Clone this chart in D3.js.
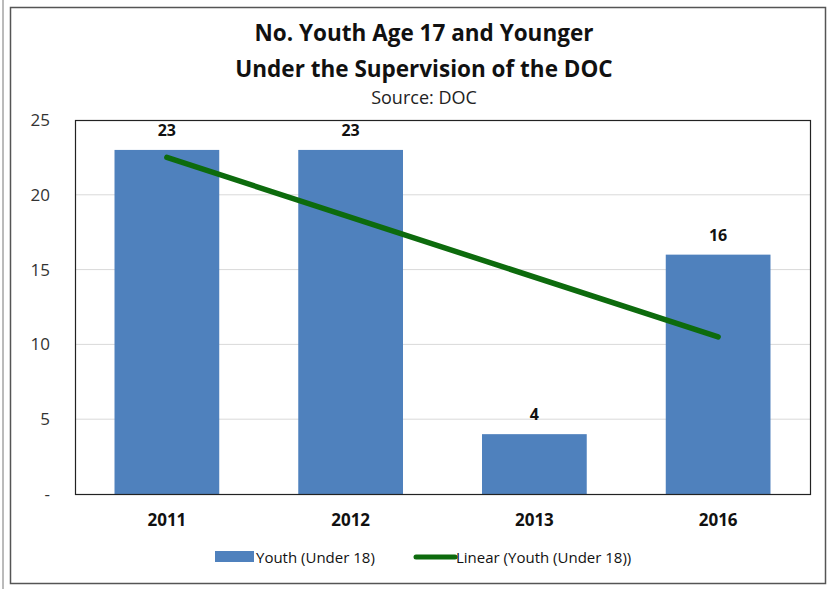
<!DOCTYPE html>
<html>
<head>
<meta charset="utf-8">
<script src="https://cdn.jsdelivr.net/npm/d3@7"></script>
<style>
  body { margin: 0; background: #fff; }
  text { font-family: "Open Sans", Arial, sans-serif; }
</style>
</head>
<body>
<div id="chart"></div>
<script>
var width = 833, height = 589;

var years = ["2011", "2012", "2013", "2016"];
var youth = [23, 23, 4, 16];
var yTicks = [0, 5, 10, 15, 20, 25];
var seriesName = "Youth (Under 18)";
var trendName = "Linear (Youth (Under 18))";

var barColor = "#4f81bd", trendColor = "#0d6b0d";

var svg = d3.select("#chart").append("svg")
    .attr("width", width)
    .attr("height", height);

// page edge line + chart frame
svg.append("line")
    .attr("x1", 3).attr("x2", 3).attr("y1", 0).attr("y2", height)
    .attr("stroke", "#777").attr("stroke-width", 1);
svg.append("rect")
    .attr("x", 10.5).attr("y", 7.5)
    .attr("width", 815).attr("height", 576)
    .attr("fill", "#fff").attr("stroke", "#555").attr("stroke-width", 1.5);

// titles
svg.append("text")
    .attr("x", 424).attr("y", 41)
    .attr("text-anchor", "middle")
    .style("font-size", "22.5px").style("font-weight", "bold").attr("fill", "#111")
    .text("No. Youth Age 17 and Younger");
svg.append("text")
    .attr("x", 424).attr("y", 77)
    .attr("text-anchor", "middle")
    .style("font-size", "22.5px").style("font-weight", "bold").attr("fill", "#111")
    .text("Under the Supervision of the DOC");
svg.append("text")
    .attr("x", 424).attr("y", 104)
    .attr("text-anchor", "middle")
    .style("font-size", "18px").attr("fill", "#222")
    .text("Source: DOC");

var plot = {left: 75, right: 810, top: 120, bottom: 494};

var x = d3.scaleBand()
    .domain(years)
    .range([plot.left, plot.right])
    .paddingInner(0.43)
    .paddingOuter(0.215);

var y = d3.scaleLinear()
    .domain([0, 25])
    .range([plot.bottom, plot.top]);

// gridlines
svg.append("g")
    .selectAll("line")
    .data(yTicks.slice(1, -1))
    .enter()
    .append("line")
    .attr("x1", plot.left).attr("x2", plot.right)
    .attr("y1", d => y(d)).attr("y2", d => y(d))
    .attr("stroke", "#d9d9d9").attr("stroke-width", 1);

// y axis labels
var yAxis = d3.axisLeft(y)
    .tickValues(yTicks)
    .tickSize(0)
    .tickPadding(25)
    .tickFormat(d => d === 0 ? "-" : d);
var yg = svg.append("g")
    .attr("transform", "translate(" + plot.left + ",0)")
    .call(yAxis);
yg.select(".domain").remove();
yg.selectAll("text")
    .style("font-size", "17px")
    .style("font-family", "\"Open Sans\", Arial, sans-serif")
    .attr("fill", "#333");

// bars
svg.append("g")
    .selectAll("rect")
    .data(youth)
    .enter()
    .append("rect")
    .attr("x", (d, i) => x(years[i]))
    .attr("y", d => y(d))
    .attr("width", x.bandwidth())
    .attr("height", d => y(0) - y(d))
    .attr("fill", barColor);

// value labels
svg.append("g")
    .selectAll("text")
    .data(youth)
    .enter()
    .append("text")
    .attr("x", (d, i) => x(years[i]) + x.bandwidth() / 2)
    .attr("y", d => y(d) - 14)
    .attr("text-anchor", "middle")
    .style("font-size", "16px").style("font-weight", "bold").attr("fill", "#111")
    .text(d => d);

// linear trendline (least squares over category index)
var idx = youth.map((d, i) => i + 1);
var mx = d3.mean(idx), my = d3.mean(youth);
var slope = d3.sum(idx, (v, i) => (v - mx) * (youth[i] - my)) / d3.sum(idx, v => (v - mx) * (v - mx));
var intercept = my - slope * mx;
var trend = idx.map((v, i) => ({year: years[i], value: intercept + slope * v}));
var trendEnds = [trend[0], trend[trend.length - 1]];

svg.append("path")
    .datum(trendEnds)
    .attr("d", d3.line()
        .x(d => x(d.year) + x.bandwidth() / 2)
        .y(d => y(d.value)))
    .attr("fill", "none")
    .attr("stroke", trendColor)
    .attr("stroke-width", 5.5)
    .attr("stroke-linecap", "round");

// plot border
svg.append("rect")
    .attr("x", plot.left + 0.5).attr("y", plot.top + 0.5)
    .attr("width", plot.right - plot.left).attr("height", plot.bottom - plot.top)
    .attr("fill", "none").attr("stroke", "#222").attr("stroke-width", 1.2);

// x labels
var xAxis = d3.axisBottom(x).tickSize(0).tickPadding(20);
var xg = svg.append("g")
    .attr("transform", "translate(0," + plot.bottom + ")")
    .call(xAxis);
xg.select(".domain").remove();
xg.selectAll("text")
    .style("font-size", "17px").style("font-weight", "bold")
    .style("font-family", "\"Open Sans\", Arial, sans-serif")
    .attr("fill", "#111");

// legend
var legend = svg.append("g").attr("transform", "translate(0,557)");
legend.append("rect")
    .attr("x", 215).attr("y", -6).attr("width", 39).attr("height", 11)
    .attr("fill", barColor);
legend.append("text")
    .attr("x", 256).attr("y", 6)
    .style("font-size", "15px").attr("fill", "#111")
    .text(seriesName);
legend.append("line")
    .attr("x1", 416).attr("x2", 455).attr("y1", 0).attr("y2", 0)
    .attr("stroke", trendColor).attr("stroke-width", 5)
    .attr("stroke-linecap", "round");
legend.append("text")
    .attr("x", 456).attr("y", 6)
    .style("font-size", "15px").attr("fill", "#111")
    .text(trendName);
</script>
</body>
</html>
